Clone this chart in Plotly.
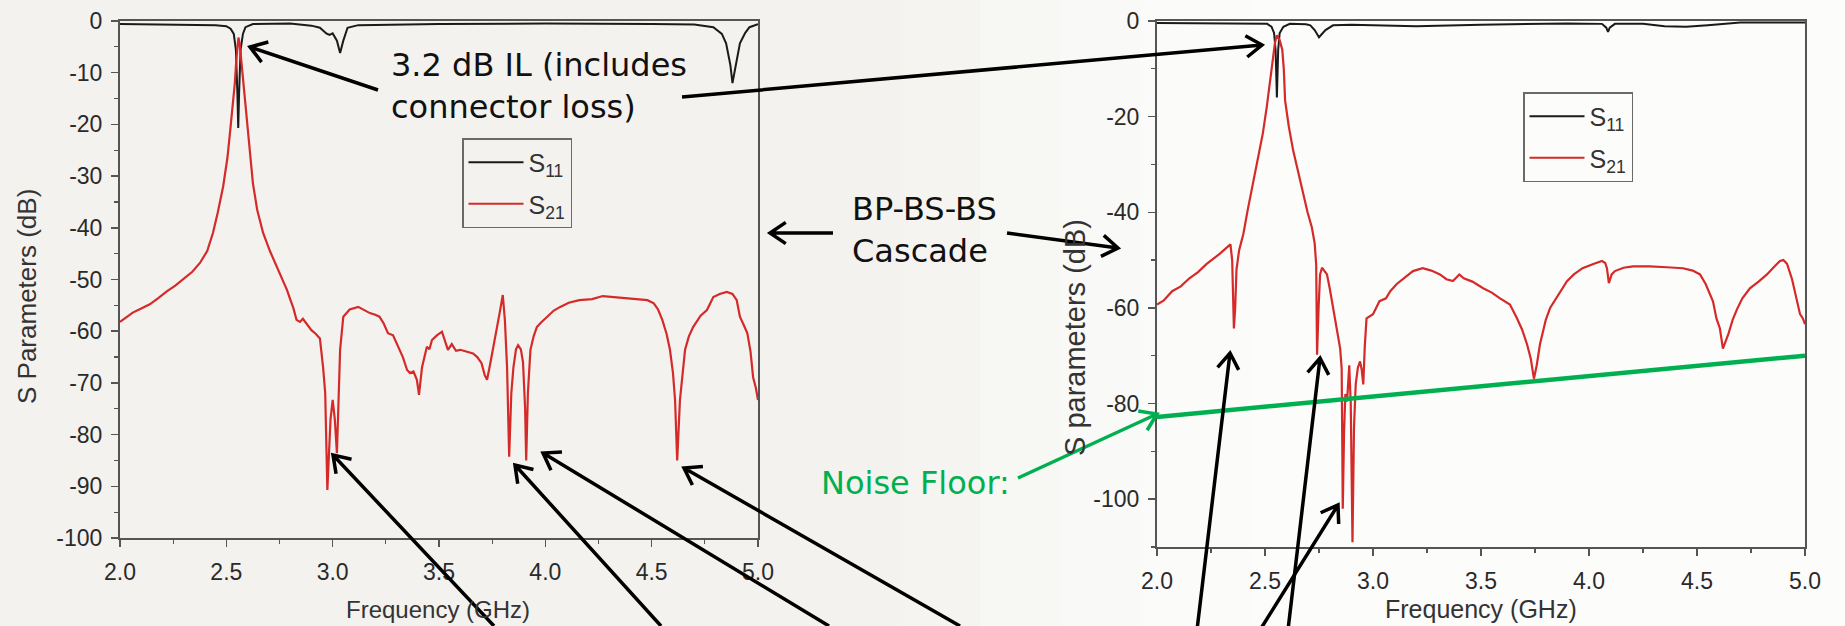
import math
import plotly.graph_objects as go

W, H = 1845, 626

# ---------------- data ----------------
freq_left_s21 = [2.00, 2.03, 2.06, 2.10, 2.14, 2.18, 2.22, 2.26, 2.30, 2.34, 2.376, 2.41, 2.437, 2.46, 2.485,
                 2.505, 2.517, 2.53, 2.54, 2.547, 2.552, 2.557, 2.563, 2.57, 2.58, 2.59, 2.60, 2.613, 2.625,
                 2.645, 2.673, 2.705, 2.738, 2.765, 2.785, 2.80, 2.815, 2.83, 2.846, 2.86, 2.875, 2.90, 2.92,
                 2.94, 2.955, 2.965, 2.975, 2.983, 2.99, 3.00, 3.01, 3.02, 3.028, 3.035, 3.05, 3.08, 3.12,
                 3.15, 3.175, 3.20, 3.22, 3.24, 3.26, 3.284, 3.30, 3.33, 3.35, 3.364, 3.38, 3.396, 3.406,
                 3.42, 3.443, 3.455, 3.467, 3.49, 3.514, 3.53, 3.542, 3.56, 3.58, 3.60, 3.63, 3.66, 3.68,
                 3.70, 3.715, 3.726, 3.74, 3.754, 3.77, 3.785, 3.80, 3.81, 3.82, 3.83, 3.84, 3.85, 3.862,
                 3.872, 3.885, 3.895, 3.905, 3.91, 3.918, 3.93, 3.945, 3.96, 3.98, 4.007, 4.04, 4.07, 4.11,
                 4.16, 4.22, 4.27, 4.32, 4.38, 4.43, 4.48, 4.51, 4.53, 4.55, 4.57, 4.586, 4.60, 4.61, 4.62,
                 4.633, 4.645, 4.657, 4.675, 4.695, 4.73, 4.76, 4.79, 4.82, 4.853, 4.88, 4.90, 4.915, 4.935,
                 4.95, 4.965, 4.977, 4.99, 5.00]
s21_left = [-58.2, -57.3, -56.4, -55.6, -54.8, -53.6, -52.3, -51.2, -49.8, -48.5, -46.8, -44.5, -41.0, -37.0,
            -32.0, -26.5, -21.7, -16.5, -12.0, -7.5, -4.3, -3.2, -4.5, -7.5, -12.5, -17.5, -21.7, -27.0,
            -31.4, -36.5, -41.0, -44.5, -47.5, -50.0, -52.0, -53.8, -55.5, -57.8, -58.2, -57.6, -58.5,
            -59.8, -60.5, -61.4, -67.0, -72.0, -90.7, -82.0, -77.0, -73.3, -77.0, -83.6, -72.0, -63.6,
            -57.2, -55.8, -55.3, -56.0, -56.5, -56.8, -57.2, -58.5, -60.4, -60.8, -62.3, -65.0, -67.5,
            -68.1, -67.8, -69.4, -72.3, -67.0, -63.0, -63.5, -61.7, -60.8, -60.1, -62.0, -63.6, -62.5,
            -63.8, -63.6, -64.0, -64.3, -65.0, -66.2, -68.5, -69.4, -66.5, -63.6, -60.0, -56.5, -53.0,
            -58.0, -66.9, -84.3, -72.0, -67.0, -63.5, -62.7, -63.5, -66.0, -75.0, -85.0, -72.0, -63.6,
            -61.0, -59.2, -58.3, -57.2, -56.0, -55.3, -54.5, -54.0, -53.8, -53.2, -53.4, -53.6, -53.8,
            -54.0, -54.6, -55.8, -57.8, -60.5, -63.6, -68.0, -73.3, -85.0, -73.3, -68.0, -63.6, -61.0,
            -59.2, -57.0, -55.9, -53.4, -52.8, -52.4, -52.8, -54.0, -57.2, -59.0, -60.4, -64.0, -68.9,
            -71.0, -73.3]

freq_left_s11 = [2.00, 2.30, 2.45, 2.50, 2.52, 2.535, 2.545, 2.552, 2.556, 2.56, 2.567, 2.578, 2.59, 2.625,
                 2.80, 2.90, 2.94, 2.97, 2.985, 3.00, 3.02, 3.035, 3.05, 3.07, 3.12, 3.50, 4.00, 4.50, 4.70,
                 4.79, 4.83, 4.85, 4.87, 4.88, 4.895, 4.915, 4.94, 4.96, 5.00]
s11_left = [-0.6, -0.7, -0.8, -1.0, -1.5, -2.5, -5.6, -14.0, -20.7, -14.0, -5.6, -2.5, -1.2, -0.6,
            -0.5, -0.9, -1.3, -2.4, -2.7, -2.4, -3.8, -6.2, -3.8, -1.3, -0.8, -0.6, -0.5, -0.6, -0.7,
            -1.2, -2.5, -4.3, -8.5, -12.0, -8.5, -4.3, -2.3, -1.2, -0.6]

freq_right_s21 = [2.00, 2.03, 2.07, 2.11, 2.15, 2.19, 2.23, 2.26, 2.29, 2.32, 2.34, 2.348, 2.352, 2.356,
                  2.362, 2.368, 2.38, 2.40, 2.42, 2.445, 2.47, 2.49, 2.508, 2.523, 2.535, 2.546, 2.555,
                  2.568, 2.58, 2.587, 2.593, 2.61, 2.63, 2.653, 2.676, 2.697, 2.717, 2.73, 2.737, 2.741,
                  2.748, 2.755, 2.764, 2.787, 2.80, 2.815, 2.833, 2.848, 2.855, 2.86, 2.866, 2.872, 2.88,
                  2.89, 2.897, 2.905, 2.912, 2.92, 2.93, 2.94, 2.948, 2.955, 2.962, 2.97, 3.00, 3.03, 3.06,
                  3.08, 3.11, 3.15, 3.185, 3.23, 3.27, 3.31, 3.34, 3.37, 3.40, 3.42, 3.46, 3.51, 3.55,
                  3.588, 3.634, 3.667, 3.69, 3.713, 3.73, 3.745, 3.758, 3.773, 3.80, 3.82, 3.86, 3.898,
                  3.93, 3.97, 4.02, 4.06, 4.075, 4.083, 4.092, 4.105, 4.12, 4.16, 4.204, 4.28, 4.36, 4.435,
                  4.48, 4.514, 4.54, 4.56, 4.574, 4.59, 4.606, 4.62, 4.632, 4.645, 4.665, 4.685, 4.71,
                  4.745, 4.785, 4.824, 4.855, 4.884, 4.90, 4.917, 4.94, 4.963, 4.977, 4.99, 5.00]
s21_right = [-59.3, -58.5, -56.5, -55.5, -53.8, -52.5, -50.8, -49.8, -48.7, -47.5, -46.7, -50.0, -58.0,
             -64.3, -60.0, -52.0, -48.0, -44.5, -39.5, -34.0, -28.5, -23.5, -18.0, -13.0, -8.5, -4.6,
             -3.0, -4.0, -6.0, -10.0, -16.6, -22.0, -27.0, -31.5, -36.0, -40.0, -43.2, -46.5, -51.0,
             -69.8, -60.0, -53.0, -51.6, -53.0, -56.0, -60.0, -64.3, -68.5, -72.7, -102.0, -86.0, -78.0,
             -79.6, -72.0, -80.0, -109.0, -85.0, -76.0, -72.5, -71.2, -73.0, -76.0, -68.0, -62.2, -61.3,
             -58.6, -58.0, -56.5, -55.0, -53.5, -52.3, -51.7, -52.2, -53.0, -54.0, -54.4, -53.0, -53.8,
             -54.5, -55.9, -56.8, -58.0, -59.3, -62.2, -64.5, -67.6, -70.5, -74.8, -72.0, -67.6, -62.5,
             -60.0, -57.0, -54.4, -53.0, -51.7, -50.8, -50.2, -50.6, -51.7, -54.8, -53.0, -52.3, -51.6,
             -51.3, -51.3, -51.5, -51.7, -52.2, -53.0, -55.0, -57.1, -58.6, -62.2, -64.3, -68.5, -67.0,
             -65.5, -62.5, -60.3, -58.0, -55.9, -54.5, -53.0, -51.5, -50.2, -50.0, -50.8, -54.0, -58.6,
             -61.3, -62.2, -63.4]

freq_right_s11 = [2.00, 2.30, 2.48, 2.51, 2.53, 2.542, 2.549, 2.555, 2.561, 2.568, 2.585, 2.615, 2.69,
                  2.71, 2.73, 2.75, 2.78, 2.815, 2.90, 3.20, 3.50, 3.90, 4.06, 4.08, 4.088, 4.096, 4.12,
                  4.25, 4.35, 4.45, 4.55, 4.70, 5.00]
s11_right = [-0.4, -0.5, -0.5, -0.6, -1.2, -2.5, -6.0, -16.0, -6.0, -2.5, -1.2, -0.6, -0.7, -0.9, -1.9,
             -3.4, -1.9, -0.9, -0.8, -1.1, -0.8, -0.5, -0.6, -1.4, -2.3, -1.4, -0.6, -0.6, -1.1, -1.2,
             -0.9, -0.3, -0.3]

noise_freq = [2.0, 5.0]
noise_db = [-82.8, -70.0]

x_tickvals = [2.0, 2.5, 3.0, 3.5, 4.0, 4.5, 5.0]
x_ticktext = ["2.0", "2.5", "3.0", "3.5", "4.0", "4.5", "5.0"]
left_y_tickvals = [0, -10, -20, -30, -40, -50, -60, -70, -80, -90, -100]
left_y_ticktext = ["0", "-10", "-20", "-30", "-40", "-50", "-60", "-70", "-80", "-90", "-100"]
right_y_tickvals = [0, -20, -40, -60, -80, -100]
right_y_ticktext = ["0", "-20", "-40", "-60", "-80", "-100"]

# ---------------- layout geometry (pixels) ----------------
def px(x):
    return x / W

def py(y):
    return 1 - y / H

LEFT_BOX = (120, 758, 21, 538)
RIGHT_BOX = (1157, 1805, 21, 547)

RED = "#d42a2a"
BLACK = "#1a1a1a"
GREEN = "#00b050"
AXIS = "#555555"
TICKFONT = dict(family="Arial, Liberation Sans, sans-serif", size=23, color="#2a2a2a")
SLIDEFONT = "DejaVu Sans, Verdana, sans-serif"

fig = go.Figure()

fig.add_trace(go.Scatter(x=freq_left_s11, y=s11_left, mode="lines", name="S<sub>11</sub>", legendgroup="a",
                         line=dict(color=BLACK, width=2), xaxis="x", yaxis="y", legend="legend"))
fig.add_trace(go.Scatter(x=freq_left_s21, y=s21_left, mode="lines", name="S<sub>21</sub>", legendgroup="b",
                         line=dict(color=RED, width=2.2), xaxis="x", yaxis="y", legend="legend"))
fig.add_trace(go.Scatter(x=freq_right_s11, y=s11_right, mode="lines", name="S<sub>11</sub>", legendgroup="c",
                         line=dict(color=BLACK, width=2), xaxis="x2", yaxis="y2", legend="legend2"))
fig.add_trace(go.Scatter(x=freq_right_s21, y=s21_right, mode="lines", name="S<sub>21</sub>", legendgroup="d",
                         line=dict(color=RED, width=2.2), xaxis="x2", yaxis="y2", legend="legend2"))
fig.add_trace(go.Scatter(x=noise_freq, y=noise_db, mode="lines", showlegend=False,
                         line=dict(color=GREEN, width=4.5), xaxis="x2", yaxis="y2"))


def xaxis_style(box, anchor):
    return dict(domain=[px(box[0]), px(box[1])], range=[2, 5], tickvals=x_tickvals, ticktext=x_ticktext,
                anchor=anchor, ticks="outside", ticklen=7, tickwidth=1.5, tickcolor=AXIS,
                minor=dict(dtick=0.25, tick0=2.0, ticks="outside", ticklen=4, tickwidth=1.2, tickcolor=AXIS),
                showline=True, linecolor=AXIS, linewidth=2, mirror=True, showgrid=False, zeroline=False,
                tickfont=TICKFONT, ticklabelstandoff=5, fixedrange=True, automargin=False)


def yaxis_style(box, anchor, rng, vals, text, minor_dtick):
    return dict(domain=[py(box[3]), py(box[2])], range=rng, tickvals=vals, ticktext=text,
                anchor=anchor, ticks="outside", ticklen=7, tickwidth=1.5, tickcolor=AXIS,
                minor=dict(dtick=minor_dtick, tick0=0, ticks="outside", ticklen=4, tickwidth=1.2,
                           tickcolor=AXIS),
                showline=True, linecolor=AXIS, linewidth=2, mirror=True, showgrid=False, zeroline=False,
                tickfont=TICKFONT, ticklabelstandoff=4, fixedrange=True, automargin=False)


# background bands (light beige on the left fading to white on the right)
bands = [(0, 900, "#f3f2ee"), (900, 980, "#f5f4f1"), (980, 1060, "#f7f7f4"),
         (1060, 1140, "#f9f9f7"), (1140, 1250, "#fbfbfa"), (1250, 1845, "#fcfcfb")]
shapes = []
for x0, x1, c in bands:
    shapes.append(dict(type="rect", xref="paper", yref="paper", x0=px(x0), x1=px(x1), y0=0, y1=1,
                       fillcolor=c, line=dict(width=0), layer="below"))

# arrows: (tail, tip) in pixels
black_arrows = [((378, 90), (250, 47)),
                ((682, 97), (1262, 45)),
                ((833, 233), (770, 233)),
                ((1007, 233), (1118, 248)),
                ((494, 626), (333, 455)),
                ((661, 626), (515, 465)),
                ((829, 626), (543, 453)),
                ((960, 626), (684, 468)),
                ((1197, 630), (1230, 353)),
                ((1288, 630), (1320, 358)),
                ((1260, 630), (1338, 505))]
green_arrows = [((1018, 478), (1157, 414))]


def arrow_path(tail, tip, L=19, ang=34):
    dx, dy = tip[0] - tail[0], tip[1] - tail[1]
    n = math.hypot(dx, dy)
    vx, vy = -dx / n, -dy / n
    pts = []
    for s in (1, -1):
        a = math.radians(ang * s)
        rx = vx * math.cos(a) - vy * math.sin(a)
        ry = vx * math.sin(a) + vy * math.cos(a)
        pts.append((tip[0] + L * rx, tip[1] + L * ry))
    f = lambda p: f"{px(p[0]):.5f},{py(p[1]):.5f}"
    return (f"M{f(tail)} L{f(tip)} M{f(pts[0])} L{f(tip)} L{f(pts[1])}")


for tail, tip in black_arrows:
    shapes.append(dict(type="path", xref="paper", yref="paper", path=arrow_path(tail, tip),
                       line=dict(color="#000000", width=3.5), layer="above"))
for tail, tip in green_arrows:
    shapes.append(dict(type="path", xref="paper", yref="paper", path=arrow_path(tail, tip),
                       line=dict(color=GREEN, width=3.5), layer="above"))

annotations = [
    dict(text="3.2 dB IL (includes<br>connector loss)", x=px(389), y=py(86), xanchor="left", yanchor="middle",
         align="left", font=dict(family=SLIDEFONT, size=32, color="#111111")),
    dict(text="BP-BS-BS<br>Cascade", x=px(850), y=py(230), xanchor="left", yanchor="middle",
         align="left", font=dict(family=SLIDEFONT, size=32, color="#111111")),
    dict(text="Noise Floor:", x=px(819), y=py(483), xanchor="left", yanchor="middle",
         align="left", font=dict(family=SLIDEFONT, size=32, color=GREEN)),
    dict(text="Frequency (GHz)", x=px(438), y=py(609), xanchor="center", yanchor="middle",
         font=dict(family="Arial, Liberation Sans, sans-serif", size=24, color="#333333")),
    dict(text="S Parameters (dB)", x=px(27), y=py(297), xanchor="center", yanchor="middle", textangle=-90,
         font=dict(family="Arial, Liberation Sans, sans-serif", size=26, color="#333333")),
    dict(text="Frequency (GHz)", x=px(1481), y=py(609), xanchor="center", yanchor="middle",
         font=dict(family="Arial, Liberation Sans, sans-serif", size=25, color="#333333")),
    dict(text="S parameters (dB)", x=px(1075), y=py(338), xanchor="center", yanchor="middle", textangle=-90,
         font=dict(family="Arial, Liberation Sans, sans-serif", size=29, color="#333333")),
]
for a in annotations:
    a.update(xref="paper", yref="paper", showarrow=False)

legend_common = dict(xanchor="left", yanchor="top", bgcolor="rgba(0,0,0,0)", bordercolor="#6a6a6a",
                     borderwidth=1.5, itemwidth=55, tracegroupgap=6,
                     font=dict(family="Arial, Liberation Sans, sans-serif", size=25, color="#333333"))

fig.update_layout(
    width=W, height=H, margin=dict(l=0, r=0, t=0, b=0, autoexpand=False),
    paper_bgcolor="#f3f2ee", plot_bgcolor="rgba(0,0,0,0)",
    xaxis=xaxis_style(LEFT_BOX, "y"),
    yaxis=yaxis_style(LEFT_BOX, "x", [-100, 0], left_y_tickvals, left_y_ticktext, 5),
    xaxis2=xaxis_style(RIGHT_BOX, "y2"),
    yaxis2=yaxis_style(RIGHT_BOX, "x2", [-110, 0], right_y_tickvals, right_y_ticktext, 10),
    legend=dict(legend_common, x=px(462), y=py(138)),
    legend2=dict(legend_common, x=px(1523), y=py(92)),
    shapes=shapes, annotations=annotations, hovermode=False,
)

fig.write_html("out.html", config={"displayModeBar": False, "staticPlot": True},
               post_script="document.body.style.margin='0';document.body.style.overflow='hidden';")
